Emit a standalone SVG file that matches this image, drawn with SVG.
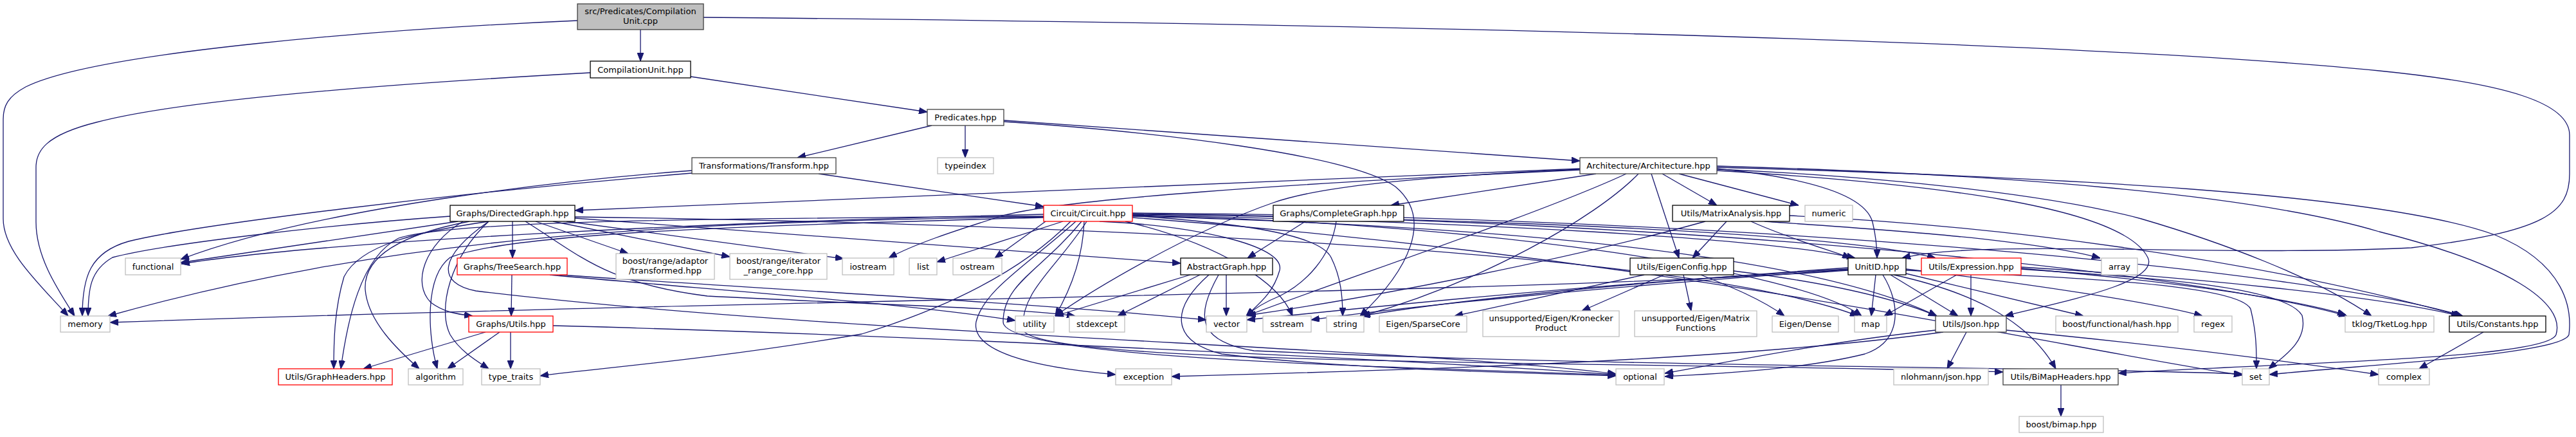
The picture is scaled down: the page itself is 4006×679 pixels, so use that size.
<svg xmlns="http://www.w3.org/2000/svg" width="4006" height="679" viewBox="0 0 4006 679">
<defs>
<marker id="a" viewBox="0 0 13 10" refX="13" refY="5" markerWidth="13" markerHeight="10" markerUnits="userSpaceOnUse" orient="auto"><path d="M0,0 L13,5 L0,10 z" fill="#191970" stroke="#191970" stroke-width="1"/></marker>
</defs>
<style>
.e path{fill:none;stroke:#191970;stroke-width:1.3;marker-end:url(#a)}
.node rect{fill:#fff;stroke:#000;stroke-width:1.3}
.node.dk rect{stroke:#404040}
.node.gr rect{stroke:#bfbfbf}
.node.rd rect{stroke:#ff0000}
.node.root rect{fill:#bfbfbf;stroke:#404040}
text{font-family:"DejaVu Sans","Liberation Sans",sans-serif;font-size:13px;text-anchor:middle;fill:#000}
</style>
<rect x="0" y="0" width="4006" height="679" fill="#fff"/>
<g id="edges" class="e">
<path d="M996,46 L996,95"/>
<path d="M898,32 C600,45 150,80 40,135 C12,150 5,165 5,185 L5,340 C5,390 60,440 106,491"/>
<path d="M1094,27 C2000,35 3200,60 3700,110 C3900,130 3996,160 3996,210 L3996,270 C3996,330 3960,360 3750,385 C3450,400 3080,370 2958,401"/>
<path d="M1074,119 L1442,174"/>
<path d="M918,113 C700,125 300,150 150,190 C70,210 56,235 56,260 L56,345 C56,400 90,450 116,491"/>
<path d="M1449,195 L1240,245"/>
<path d="M1501,195 L1501,245"/>
<path d="M1561,187 L2457,250"/>
<path d="M1561,189 C1800,205 2100,240 2170,290 C2230,340 2190,420 2115,491"/>
<path d="M1076,265 C900,278 500,320 281,403"/>
<path d="M1076,269 C700,300 300,350 200,375 C140,392 128,430 128,491"/>
<path d="M1273,270 L1623,321"/>
<path d="M2457,262 L894,327"/>
<path d="M2482,270 L2163,319"/>
<path d="M2585,270 L2670,319"/>
<path d="M2611,270 L2797,319"/>
<path d="M2568,270 L2611,401"/>
<path d="M2670,262 C2800,275 2900,300 2912,345 C2918,370 2919,385 2919,401"/>
<path d="M2670,265 C3000,285 3300,320 3340,400 C3360,440 3200,470 3118,491"/>
<path d="M2670,263 C2950,275 3200,305 3330,340 C3450,375 3600,430 3688,491"/>
<path d="M2670,258 C3100,270 3500,300 3700,360 C3900,410 3990,470 3975,520 C3960,560 3500,565 3294,580"/>
<path d="M2670,260 C3200,275 3700,300 3880,365 C3990,410 4000,480 3995,520 C3985,550 3700,565 3529,582"/>
<path d="M2457,263 C2200,275 2050,290 1980,315 C1850,360 1700,450 1641,491"/>
<path d="M2457,264 C2000,285 1650,310 1560,335 C1480,360 1420,380 1382,401"/>
<path d="M2529,270 C2400,330 2100,430 1938,491"/>
<path d="M2548,270 C2480,340 2300,440 2118,491"/>
<path d="M797,344 L797,401"/>
<path d="M833,344 L977,394"/>
<path d="M860,344 L1135,399"/>
<path d="M881,344 L1312,402"/>
<path d="M894,339 L1836,409"/>
<path d="M712,344 L281,408"/>
<path d="M700,336 C500,350 250,380 175,400 C140,420 137,450 137,491"/>
<path d="M760,344 C650,360 560,380 535,430 C520,480 519,530 519,573"/>
<path d="M730,344 C620,365 565,400 568,450 C572,500 620,545 652,573"/>
<path d="M760,344 C700,400 680,480 700,520 C715,545 740,560 760,573"/>
<path d="M720,344 C660,380 640,440 670,470 C690,485 710,488 735,491"/>
<path d="M817,344 C900,395 940,440 1100,460 C1400,475 1600,480 1672,491"/>
<path d="M894,337 C1500,345 2600,380 2890,491"/>
<path d="M760,344 C680,400 680,440 740,452 C1300,520 2200,540 2513,581"/>
<path d="M1623,333 C1100,345 500,375 282,410"/>
<path d="M1623,337 C1000,345 600,370 168,491"/>
<path d="M1623,336 C1000,340 700,345 620,370 C560,400 540,500 530,573"/>
<path d="M1623,338 C1200,350 800,360 700,400 C660,430 665,520 680,573"/>
<path d="M1665,344 C1600,410 1500,470 1340,519 C1100,560 900,575 840,584"/>
<path d="M1653,344 L1457,407"/>
<path d="M1626,344 L1547,401"/>
<path d="M1686,344 C1684,400 1665,450 1641,491"/>
<path d="M1673,344 C1600,410 1530,450 1518,500 C1510,545 1600,570 1735,582"/>
<path d="M1710,344 C1850,350 2000,380 1990,420 C1980,455 1960,470 1938,491"/>
<path d="M1750,344 C1900,380 1990,440 2010,491"/>
<path d="M1761,335 C1900,345 2050,360 2070,400 C2085,430 2088,460 2088,491"/>
<path d="M1682,344 C1620,420 1560,440 1560,500 C1560,560 2200,570 2513,583"/>
<path d="M1761,336 C2300,350 2800,390 3012,491"/>
<path d="M1761,334 C2300,345 2750,370 2885,401"/>
<path d="M1761,333 C2300,340 2850,360 3010,401"/>
<path d="M1690,344 C1640,420 1590,450 1590,510 C1590,570 2500,560 3115,578"/>
<path d="M1761,338 C2600,400 3200,540 3487,583"/>
<path d="M1761,332 C2600,340 3400,420 3650,491"/>
<path d="M1761,331 C2700,335 3600,420 3830,491"/>
<path d="M1761,335 C2300,345 2800,420 2895,491"/>
<path d="M2030,344 L1940,401"/>
<path d="M2078,344 C2070,400 2030,440 1990,460 C1965,470 1950,480 1938,491"/>
<path d="M2685,344 L2632,401"/>
<path d="M2652,344 C2450,400 2150,460 1940,490"/>
<path d="M2723,344 C2780,370 2850,390 2878,401"/>
<path d="M2744,344 C2900,355 3150,370 3266,401"/>
<path d="M2783,335 C3100,350 3500,400 3828,491"/>
<path d="M796,427 L795,491"/>
<path d="M855,427 C1100,450 1400,470 1579,498"/>
<path d="M870,427 C1200,450 1600,470 1876,497"/>
<path d="M1851,427 L1641,491"/>
<path d="M1866,427 L1738,491"/>
<path d="M1907,427 L1907,491"/>
<path d="M1880,427 C1820,480 1820,530 1900,550 C2100,575 2400,580 2513,584"/>
<path d="M1895,427 C1860,490 1860,530 1950,545 C2500,570 3200,570 3487,581"/>
<path d="M2557,427 L2262,491"/>
<path d="M2588,427 L2460,483"/>
<path d="M2618,427 L2630,483"/>
<path d="M2645,427 C2690,445 2740,465 2775,491"/>
<path d="M2696,421 C2850,440 2950,465 3012,491"/>
<path d="M2874,420 C2400,455 1200,465 171,501"/>
<path d="M2917,427 L2910,491"/>
<path d="M2940,427 L3045,491"/>
<path d="M2964,425 L3240,491"/>
<path d="M2964,418 C3150,440 3350,470 3425,491"/>
<path d="M2874,416 C2600,435 2300,460 2117,491"/>
<path d="M2874,418 C2500,440 2200,470 1939,497"/>
<path d="M2874,419 C2500,445 2200,475 2039,497"/>
<path d="M2928,427 C2955,470 2960,530 2900,550 C2800,575 2650,582 2589,585"/>
<path d="M2945,427 C3050,450 3150,490 3197,573"/>
<path d="M2964,420 C3200,430 3480,440 3500,480 C3510,520 3509,550 3509,573"/>
<path d="M3043,427 L2930,491"/>
<path d="M3065,427 L3065,491"/>
<path d="M3143,418 C3300,430 3550,440 3580,490 C3590,530 3550,555 3528,573"/>
<path d="M3143,415 C3400,430 3700,460 3825,491"/>
<path d="M3143,417 C3350,435 3550,460 3648,489"/>
<path d="M755,516 L565,573"/>
<path d="M777,516 L696,573"/>
<path d="M794,516 L794,573"/>
<path d="M860,506 C1400,520 2200,560 2513,582"/>
<path d="M3058,516 L3028,573"/>
<path d="M3010,513 C2850,530 2700,560 2589,580"/>
<path d="M3022,516 C2700,560 2200,575 1822,585"/>
<path d="M3120,513 C3350,535 3550,560 3699,582"/>
<path d="M3862,516 L3762,573"/>
<path d="M3205,598 L3205,647"/>
</g>
<g id="n1" class="node root"><rect x="898" y="6" width="196" height="40"/><text x="996" y="22">src/Predicates/Compilation</text><text x="996" y="37">Unit.cpp</text></g>
<g id="n2" class="node"><rect x="918" y="95" width="156" height="26"/><text x="996" y="112.5">CompilationUnit.hpp</text></g>
<g id="n3" class="node dk"><rect x="1442" y="170" width="119" height="25"/><text x="1501.5" y="187">Predicates.hpp</text></g>
<g id="n4" class="node dk"><rect x="1076" y="245" width="224" height="25"/><text x="1188" y="262">Transformations/Transform.hpp</text></g>
<g id="n5" class="node gr"><rect x="1458" y="245" width="87" height="25"/><text x="1501.5" y="262">typeindex</text></g>
<g id="n6" class="node dk"><rect x="2457" y="245" width="213" height="25"/><text x="2563.5" y="262">Architecture/Architecture.hpp</text></g>
<g id="n7" class="node"><rect x="700" y="319" width="194" height="25"/><text x="797" y="336">Graphs/DirectedGraph.hpp</text></g>
<g id="n8" class="node rd"><rect x="1623" y="319" width="138" height="25"/><text x="1692" y="336">Circuit/Circuit.hpp</text></g>
<g id="n9" class="node"><rect x="1980" y="319" width="203" height="25"/><text x="2081.5" y="336">Graphs/CompleteGraph.hpp</text></g>
<g id="n10" class="node"><rect x="2601" y="319" width="182" height="25"/><text x="2692" y="336">Utils/MatrixAnalysis.hpp</text></g>
<g id="n11" class="node gr"><rect x="2807" y="319" width="74" height="25"/><text x="2844" y="336">numeric</text></g>
<g id="n12" class="node gr"><rect x="195" y="401" width="86" height="26"/><text x="238" y="418.5">functional</text></g>
<g id="n13" class="node rd"><rect x="711" y="401" width="171" height="26"/><text x="796.5" y="418.5">Graphs/TreeSearch.hpp</text></g>
<g id="n14" class="node gr"><rect x="958" y="394" width="153" height="40"/><text x="1034.5" y="410">boost/range/adaptor</text><text x="1034.5" y="425">/transformed.hpp</text></g>
<g id="n15" class="node gr"><rect x="1135" y="394" width="151" height="40"/><text x="1210.5" y="410">boost/range/iterator</text><text x="1210.5" y="425">_range_core.hpp</text></g>
<g id="n16" class="node gr"><rect x="1310" y="401" width="80" height="26"/><text x="1350" y="418.5">iostream</text></g>
<g id="n17" class="node gr"><rect x="1414" y="401" width="43" height="26"/><text x="1435.5" y="418.5">list</text></g>
<g id="n18" class="node gr"><rect x="1482" y="401" width="76" height="26"/><text x="1520" y="418.5">ostream</text></g>
<g id="n19" class="node"><rect x="1836" y="401" width="143" height="26"/><text x="1907.5" y="418.5">AbstractGraph.hpp</text></g>
<g id="n20" class="node"><rect x="2535" y="401" width="161" height="26"/><text x="2615.5" y="418.5">Utils/EigenConfig.hpp</text></g>
<g id="n21" class="node"><rect x="2874" y="401" width="90" height="26"/><text x="2919" y="418.5">UnitID.hpp</text></g>
<g id="n22" class="node rd"><rect x="2988" y="401" width="155" height="26"/><text x="3065.5" y="418.5">Utils/Expression.hpp</text></g>
<g id="n23" class="node gr"><rect x="3268" y="401" width="56" height="26"/><text x="3296" y="418.5">array</text></g>
<g id="n24" class="node gr"><rect x="94" y="491" width="77" height="25"/><text x="132.5" y="508">memory</text></g>
<g id="n25" class="node rd"><rect x="729" y="491" width="131" height="25"/><text x="794.5" y="508">Graphs/Utils.hpp</text></g>
<g id="n26" class="node gr"><rect x="1579" y="491" width="60" height="25"/><text x="1609" y="508">utility</text></g>
<g id="n27" class="node gr"><rect x="1663" y="491" width="86" height="25"/><text x="1706" y="508">stdexcept</text></g>
<g id="n28" class="node gr"><rect x="1876" y="491" width="63" height="25"/><text x="1907.5" y="508">vector</text></g>
<g id="n29" class="node gr"><rect x="1964" y="491" width="75" height="25"/><text x="2001.5" y="508">sstream</text></g>
<g id="n30" class="node gr"><rect x="2063" y="491" width="58" height="25"/><text x="2092" y="508">string</text></g>
<g id="n31" class="node gr"><rect x="2145" y="491" width="136" height="25"/><text x="2213" y="508">Eigen/SparseCore</text></g>
<g id="n32" class="node gr"><rect x="2306" y="483" width="212" height="40"/><text x="2412" y="499">unsupported/Eigen/Kronecker</text><text x="2412" y="514">Product</text></g>
<g id="n33" class="node gr"><rect x="2542" y="483" width="190" height="40"/><text x="2637" y="499">unsupported/Eigen/Matrix</text><text x="2637" y="514">Functions</text></g>
<g id="n34" class="node gr"><rect x="2756" y="491" width="103" height="25"/><text x="2807.5" y="508">Eigen/Dense</text></g>
<g id="n35" class="node gr"><rect x="2884" y="491" width="50" height="25"/><text x="2909" y="508">map</text></g>
<g id="n36" class="node dk"><rect x="3010" y="491" width="110" height="25"/><text x="3065" y="508">Utils/Json.hpp</text></g>
<g id="n37" class="node gr"><rect x="3197" y="491" width="190" height="25"/><text x="3292" y="508">boost/functional/hash.hpp</text></g>
<g id="n38" class="node gr"><rect x="3412" y="491" width="59" height="25"/><text x="3441.5" y="508">regex</text></g>
<g id="n39" class="node gr"><rect x="3647" y="491" width="138" height="25"/><text x="3716" y="508">tklog/TketLog.hpp</text></g>
<g id="n40" class="node"><rect x="3809" y="491" width="150" height="25"/><text x="3884" y="508">Utils/Constants.hpp</text></g>
<g id="n41" class="node rd"><rect x="433" y="573" width="177" height="25"/><text x="521.5" y="590">Utils/GraphHeaders.hpp</text></g>
<g id="n42" class="node gr"><rect x="635" y="573" width="85" height="25"/><text x="677.5" y="590">algorithm</text></g>
<g id="n43" class="node gr"><rect x="749" y="573" width="91" height="25"/><text x="794.5" y="590">type_traits</text></g>
<g id="n44" class="node gr"><rect x="1735" y="573" width="87" height="25"/><text x="1778.5" y="590">exception</text></g>
<g id="n45" class="node gr"><rect x="2513" y="573" width="75" height="25"/><text x="2550.5" y="590">optional</text></g>
<g id="n46" class="node gr"><rect x="2945" y="573" width="147" height="25"/><text x="3018.5" y="590">nlohmann/json.hpp</text></g>
<g id="n47" class="node dk"><rect x="3115" y="573" width="179" height="25"/><text x="3204.5" y="590">Utils/BiMapHeaders.hpp</text></g>
<g id="n48" class="node gr"><rect x="3487" y="573" width="42" height="25"/><text x="3508" y="590">set</text></g>
<g id="n49" class="node gr"><rect x="3699" y="573" width="79" height="25"/><text x="3738.5" y="590">complex</text></g>
<g id="n50" class="node gr"><rect x="3140" y="647" width="131" height="25"/><text x="3205.5" y="664">boost/bimap.hpp</text></g>
</svg>
